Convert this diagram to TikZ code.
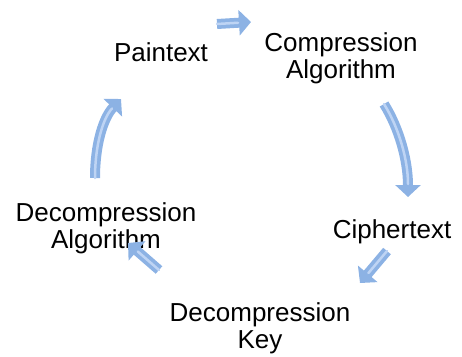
\documentclass[tikz,border=0pt]{standalone}
\usepackage{fontspec}
\setmainfont{Liberation Sans}
\usetikzlibrary{arrows.meta}
\definecolor{arrowblue}{RGB}{140,178,228}
\definecolor{arrowshine}{RGB}{190,212,244}
\tikzset{
	label/.style={align=center, inner sep=0pt, font=\fontsize{26}{27}\selectfont},
	flowarrow/.style={line width=10pt, draw=arrowblue, -{Triangle[length=12pt,width=25pt]}},
	flowshine/.style={line width=2.5pt, draw=arrowshine, shorten >=13pt, line cap=round},
}
\begin{document}
\begin{tikzpicture}[x=1pt, y=-1pt]
		%%%%% START %%%%%
		\useasboundingbox (0, 0) rectangle (462, 356);
		
		\node[label] (plain) at (161, 52) {Paintext};
		\node[label] (comp) at (341, 58) {Compression\\Algorithm};
		\node[label] (cipher) at (392, 232) {Ciphertext};
		\node[label] (dkey) at (260, 328) {Decompression\\Key};
		\node[label] (dalgo) at (106, 228) {Decompression\\Algorithm};
		
		\coordinate (a1s) at (217, 24);
		\coordinate (a1e) at (251, 22);
		\coordinate (a2s) at (384, 104);
		\coordinate (a2e) at (408, 197);
		\coordinate (a3s) at (387, 251);
		\coordinate (a3e) at (360, 283);
		\coordinate (a4s) at (159, 270);
		\coordinate (a4e) at (128, 243);
		\coordinate (a5s) at (95, 178);
		\coordinate (a5e) at (121, 99);
		
		\draw[flowarrow] (a1s) -- (a1e);
		\draw[flowshine] (a1s) -- (a1e);
		
		\draw[flowarrow] (a2s) .. controls (399, 128) and (408, 160) .. (a2e);
		\draw[flowshine] (a2s) .. controls (399, 128) and (408, 160) .. (a2e);
		
		\draw[flowarrow] (a3s) -- (a3e);
		\draw[flowshine] (a3s) -- (a3e);
		
		\draw[flowarrow] (a4s) -- (a4e);
		\draw[flowshine] (a4s) -- (a4e);
		
		\draw[flowarrow] (a5s) .. controls (95, 145) and (103, 118) .. (a5e);
		\draw[flowshine] (a5s) .. controls (95, 145) and (103, 118) .. (a5e);
		%%%%% END %%%%%
	\end{tikzpicture}
\end{document}
